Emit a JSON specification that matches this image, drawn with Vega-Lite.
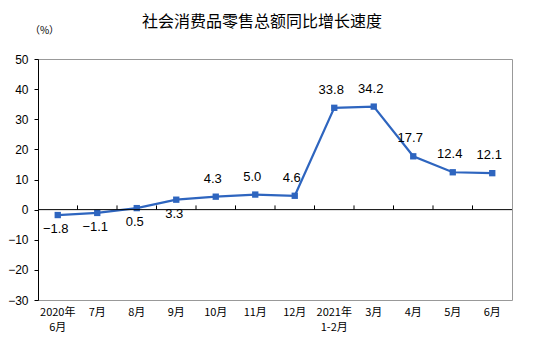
{
  "$schema": "https://vega.github.io/schema/vega-lite/v6.json",
  "width": 474,
  "height": 241,
  "autosize": "none",
  "padding": {"left": 38, "top": 59, "right": 28, "bottom": 54},
  "background": "white",
  "config": {
    "view": {"stroke": "#999999", "strokeWidth": 1},
    "font": "Liberation Sans"
  },
  "title": {
    "text": "社会消费品零售总额同比增长速度",
    "font": "Noto Sans CJK SC",
    "fontSize": 16,
    "fontWeight": "normal",
    "color": "#000000",
    "anchor": "middle",
    "frame": "group",
    "dx": -13,
    "offset": -5
  },
  "datasets": {
    "sales": [
      {"m": "2020年|6月", "v": -1.8},
      {"m": "7月", "v": -1.1},
      {"m": "8月", "v": 0.5},
      {"m": "9月", "v": 3.3},
      {"m": "10月", "v": 4.3},
      {"m": "11月", "v": 5.0},
      {"m": "12月", "v": 4.6},
      {"m": "2021年|1-2月", "v": 33.8},
      {"m": "3月", "v": 34.2},
      {"m": "4月", "v": 17.7},
      {"m": "5月", "v": 12.4},
      {"m": "6月", "v": 12.1}
    ],
    "zero": [{"v": 0}]
  },
  "encoding": {
    "y": {
      "field": "v",
      "type": "quantitative",
      "scale": {"domain": [-30, 50], "nice": false},
      "axis": {
        "values": [-30, -20, -10, 0, 10, 20, 30, 40, 50],
        "labelOverlap": false,
        "grid": false,
        "domainColor": "#000000",
        "tickColor": "#000000",
        "tickSize": 4,
        "labelColor": "#000000",
        "labelFontSize": 12,
        "labelPadding": 6,
        "title": "（%）",
        "titleFont": "Noto Sans CJK SC",
        "titleFontSize": 10,
        "titleFontWeight": "normal",
        "titleAngle": 0,
        "titleAlign": "center",
        "titleBaseline": "middle",
        "titleX": 6,
        "titleY": -29,
        "titleColor": "#000000"
      }
    }
  },
  "layer": [
    {
      "data": {"name": "sales"},
      "encoding": {
        "x": {
          "field": "m",
          "type": "nominal",
          "sort": ["2020年|6月", "7月", "8月", "9月", "10月", "11月", "12月", "2021年|1-2月", "3月", "4月", "5月", "6月"],
          "scale": {"type": "band", "paddingInner": 0, "paddingOuter": 0},
          "axis": {
            "title": null,
            "domain": false,
            "ticks": false,
            "labelAngle": 0,
            "labelExpr": "split(datum.label, '|')",
            "labelFont": "Noto Sans CJK SC",
            "labelFontSize": 11,
            "labelColor": "#000000",
            "labelPadding": 12,
            "labelLineHeight": 15,
            "labelBaseline": "middle"
          }
        }
      },
      "layer": [
        {
          "transform": [{"filter": "datum.m != '2020年|6月'"}],
          "mark": {"type": "rule", "color": "#000000", "strokeWidth": 1},
          "encoding": {
            "x": {"field": "m", "type": "nominal", "sort": ["2020年|6月", "7月", "8月", "9月", "10月", "11月", "12月", "2021年|1-2月", "3月", "4月", "5月", "6月"], "bandPosition": 0},
            "y": {"datum": 0},
            "y2": {"datum": 1.4}
          }
        },
        {
          "mark": {"type": "line", "color": "#2E65BF", "strokeWidth": 2.2}
        },
        {
          "mark": {"type": "square", "color": "#2E65BF", "opacity": 1, "size": 40}
        },
        {
          "transform": [{"filter": "datum.v > 4"}],
          "mark": {"type": "text", "dy": -18, "dx": -3, "fontSize": 13, "color": "#000000", "baseline": "middle"},
          "encoding": {"text": {"field": "v", "type": "quantitative", "format": ".1f"}}
        },
        {
          "transform": [{"filter": "datum.v <= 4"}],
          "mark": {"type": "text", "dy": 14, "dx": -2, "fontSize": 13, "color": "#000000", "baseline": "middle"},
          "encoding": {"text": {"field": "v", "type": "quantitative", "format": ".1f"}}
        }
      ]
    },
    {
      "data": {"name": "zero"},
      "mark": {"type": "rule", "color": "#000000", "strokeWidth": 1},
      "encoding": {}
    }
  ]
}
